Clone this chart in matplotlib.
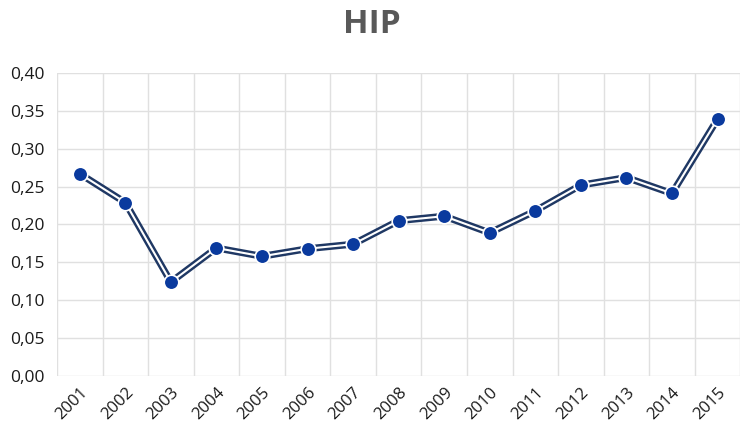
import matplotlib.pyplot as plt
import numpy as np

years = [str(y) for y in range(2001, 2016)]
values = [0.267, 0.229, 0.124, 0.169, 0.158, 0.168, 0.174, 0.205,
          0.211, 0.189, 0.218, 0.252, 0.262, 0.241, 0.339]
yticks = [0.0, 0.05, 0.10, 0.15, 0.20, 0.25, 0.30, 0.35, 0.40]

plt.rcParams['font.family'] = ['Open Sans', 'DejaVu Sans']

fig = plt.figure(figsize=(7.44, 4.38), dpi=100)
ax = fig.add_axes([0.0766, 0.1416, 0.9184, 0.6917])

x = np.arange(len(years))
# double line: dark outer stroke with a thin white core
ax.plot(x, values, color='#1F3864', lw=5, zorder=3)
ax.plot(x, values, color='white', lw=1.5, zorder=4)
ax.plot(x, values, ls='none', marker='o', ms=10.5, mfc='#0A3A9E',
        mec='white', mew=1.2, zorder=5)

ax.set_xlim(-0.5, len(years) - 0.5)
ax.set_ylim(0, 0.40)
ax.set_yticks(yticks)
ax.set_yticklabels([f'{v:.2f}'.replace('.', ',') for v in yticks])
ax.set_xticks(x)
ax.set_xticklabels(years, rotation=45, ha='right', va='top',
                   rotation_mode='anchor')
ax.set_xticks(np.arange(-0.5, len(years)), minor=True)

ax.grid(True, which='major', axis='y', color='#E0E0E0', lw=1)
ax.grid(True, which='minor', axis='x', color='#E0E0E0', lw=1)
ax.set_axisbelow(True)
for s in ax.spines.values():
    s.set_visible(False)
ax.tick_params(which='both', length=0)
ax.tick_params(axis='y', labelsize=12.5, colors='#1a1a1a', pad=9)
ax.tick_params(axis='x', labelsize=12, colors='#1a1a1a', pad=6)

fig.text(0.5, 0.943, 'HIP', ha='center', va='center', fontsize=24,
         fontweight='bold', color='#595959')

fig.savefig('out.png', dpi=100)
